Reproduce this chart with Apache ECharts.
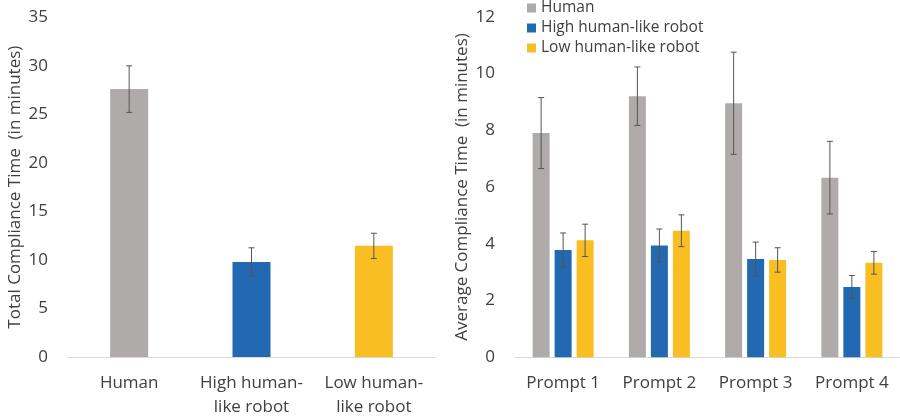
<!DOCTYPE html>
<html>
<head>
<meta charset="utf-8">
<script src="https://cdn.jsdelivr.net/npm/echarts@6/dist/echarts.min.js"></script>
<style>html,body{margin:0;padding:0;background:#fff}#c{width:900px;height:419px}</style>
</head>
<body>
<div id="c"></div>
<script>
// Left chart data
const totalCategories = ['Human', 'High human-\nlike robot', 'Low human-\nlike robot'];
const totalValues = [27.6, 9.8, 11.45];
const totalErrors = [2.4, 1.45, 1.3];

// Right chart data
const promptCategories = ['Prompt 1', 'Prompt 2', 'Prompt 3', 'Prompt 4'];
const seriesNames = ['Human', 'High human-like robot', 'Low human-like robot'];
const humanValues = [7.9, 9.2, 8.95, 6.33];
const humanErrors = [1.25, 1.03, 1.8, 1.28];
const highValues = [3.78, 3.94, 3.46, 2.48];
const highErrors = [0.6, 0.58, 0.6, 0.4];
const lowValues = [4.12, 4.46, 3.43, 3.33];
const lowErrors = [0.57, 0.56, 0.43, 0.4];

const totalYTicks = [0, 5, 10, 15, 20, 25, 30, 35];
const avgYTicks = [0, 2, 4, 6, 8, 10, 12];

const colors = ['#AFABAB', '#2369B1', '#F9BE22'];
const textColor = '#404040';
const font = '"Open Sans", "DejaVu Sans", sans-serif';
const errColor = '#555555';

const chart = echarts.init(document.getElementById('c'), null, {renderer: 'canvas'});

function errorSeries(name, xIdx, yIdx, values, errors, offset) {
  return {
    type: 'custom',
    name: name,
    xAxisIndex: xIdx,
    yAxisIndex: yIdx,
    silent: true,
    z: 10,
    data: values.map((v, i) => [i, v - errors[i], v + errors[i]]),
    renderItem: function (params, api) {
      const lo = api.coord([api.value(0), api.value(1)]);
      const hi = api.coord([api.value(0), api.value(2)]);
      const x = lo[0] + offset;
      const cap = 3;
      const style = {stroke: errColor, lineWidth: 1};
      return {
        type: 'group',
        children: [
          {type: 'line', shape: {x1: x, y1: lo[1], x2: x, y2: hi[1]}, style: style},
          {type: 'line', shape: {x1: x - cap, y1: lo[1], x2: x + cap, y2: lo[1]}, style: style},
          {type: 'line', shape: {x1: x - cap, y1: hi[1], x2: x + cap, y2: hi[1]}, style: style}
        ]
      };
    }
  };
}

const barW = 17, gap = 5;
const rightSeriesData = [
  [humanValues, humanErrors],
  [highValues, highErrors],
  [lowValues, lowErrors]
];

const series = [
  {
    type: 'bar',
    name: 'total',
    xAxisIndex: 0, yAxisIndex: 0,
    barWidth: 38,
    data: totalValues.map((v, i) => ({value: v, itemStyle: {color: colors[i]}})),
    silent: true
  },
  errorSeries('totalErr', 0, 0, totalValues, totalErrors, 0)
];
rightSeriesData.forEach((d, k) => {
  series.push({
    type: 'bar',
    name: seriesNames[k],
    xAxisIndex: 1, yAxisIndex: 1,
    barWidth: barW,
    barGap: (gap / barW * 100).toFixed(1) + '%',
    itemStyle: {color: colors[k]},
    data: d[0],
    silent: true
  });
});
rightSeriesData.forEach((d, k) => {
  series.push(errorSeries('err' + k, 1, 1, d[0], d[1], (k - 1) * (barW + gap)));
});

const yAxisCommon = {
  type: 'value',
  axisLine: {show: false},
  axisTick: {show: false},
  splitLine: {show: false},
  axisLabel: {color: textColor, fontSize: 17, fontFamily: font, margin: 20},
  nameLocation: 'middle',
  nameGap: 44,
  nameTextStyle: {color: textColor, fontSize: 17, fontFamily: font}
};
const xAxisCommon = {
  type: 'category',
  axisLine: {lineStyle: {color: '#D9D9D9', width: 1}},
  axisTick: {show: false},
  axisLabel: {color: textColor, fontSize: 17, fontFamily: font, margin: 14, lineHeight: 24, interval: 0}
};

chart.setOption({
  animation: false,
  backgroundColor: '#ffffff',
  legend: {
    data: seriesNames,
    orient: 'vertical',
    left: 527,
    top: 0,
    padding: 0,
    icon: 'rect',
    itemWidth: 9,
    itemHeight: 9,
    itemGap: 4,
    textStyle: {color: textColor, fontSize: 15.5, fontFamily: font, lineHeight: 15.5}
  },
  grid: [
    {left: 68, right: 465, top: 17.3, bottom: 61.7},
    {left: 515, right: 0, top: 16.7, bottom: 61.7}
  ],
  xAxis: [
    Object.assign({}, xAxisCommon, {gridIndex: 0, data: totalCategories}),
    Object.assign({}, xAxisCommon, {gridIndex: 1, data: promptCategories})
  ],
  yAxis: [
    Object.assign({}, yAxisCommon, {gridIndex: 0, min: totalYTicks[0], max: totalYTicks[totalYTicks.length - 1], interval: totalYTicks[1] - totalYTicks[0], name: 'Total Compliance Time  (in minutes)'}),
    Object.assign({}, yAxisCommon, {gridIndex: 1, min: avgYTicks[0], max: avgYTicks[avgYTicks.length - 1], interval: avgYTicks[1] - avgYTicks[0], name: 'Average Compliance Time  (in minutes)'})
  ],
  series: series
});
</script>
</body>
</html>
